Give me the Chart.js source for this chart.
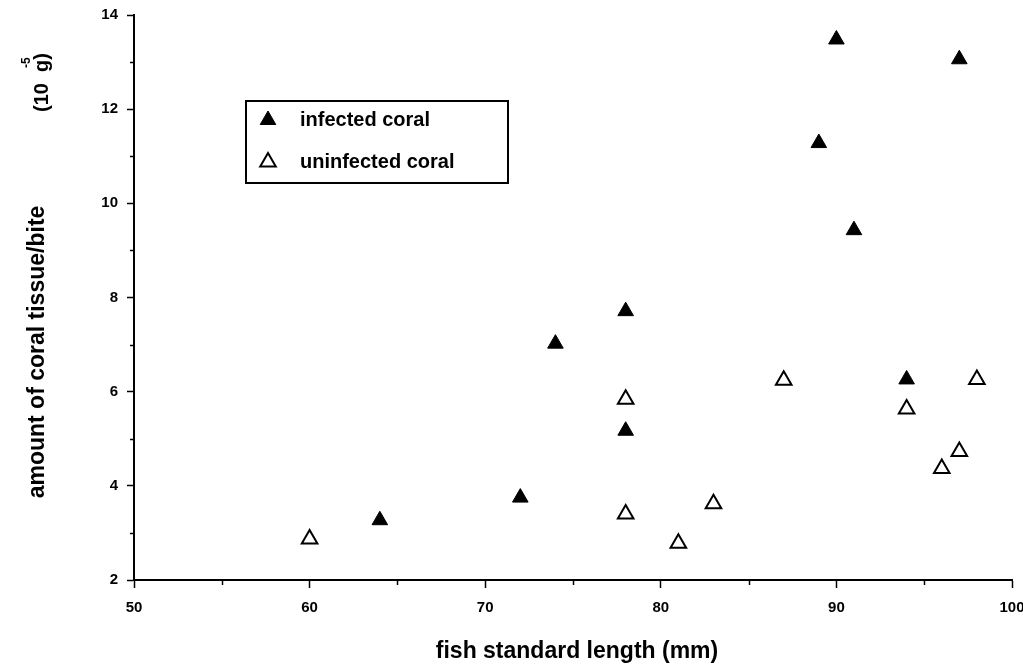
<!DOCTYPE html>
<html>
<head>
<meta charset="utf-8">
<title>Coral tissue per bite</title>
<script src="https://cdn.jsdelivr.net/npm/chart.js@4.4.1/dist/chart.umd.min.js"></script>
<style>
  html, body { margin: 0; padding: 0; background: #fff; }
  #wrap { width: 1023px; height: 664px; position: relative; }
</style>
</head>
<body>
<div id="wrap"><canvas id="chartCanvas"></canvas></div>
<script>
// дані
const infectedX = [64, 72, 74, 78, 78, 89, 90, 91, 94, 97];
const infectedY = [3.27, 3.75, 7.02, 7.71, 5.17, 11.28, 13.48, 9.43, 6.26, 13.06];
const uninfectedX = [60, 78, 78, 81, 83, 87, 94, 96, 97, 98];
const uninfectedY = [2.87, 5.84, 3.4, 2.78, 3.62, 6.24, 5.63, 4.37, 4.73, 6.26];
const seriesLabels = ["infected coral", "uninfected coral"];
const xTicks = [50, 60, 70, 80, 90, 100];
const yTicks = [2, 4, 6, 8, 10, 12, 14];
const xMinor = [55, 65, 75, 85, 95];
const yMinor = [3, 5, 7, 9, 11, 13];
const xTitle = "fish standard length (mm)";
const yTitle = "amount of coral tissue/bite";

const FONT = "'Liberation Sans', Arial, sans-serif";

function toPoints(xs, ys) {
  return xs.map((x, i) => ({ x: x, y: ys[i] }));
}

// малюємо дрібні поділки, підписи осей і легенду
const extras = {
  id: "extras",
  afterDraw(chart) {
    const ctx = chart.ctx;
    const xs = chart.scales.x;
    const ys = chart.scales.y;
    const area = chart.chartArea;
    ctx.save();
    ctx.strokeStyle = "#000";
    ctx.lineWidth = 1.5;
    xMinor.forEach((v) => {
      const px = Math.round(xs.getPixelForValue(v)) + 0.5;
      ctx.beginPath();
      ctx.moveTo(px, area.bottom);
      ctx.lineTo(px, area.bottom + 5);
      ctx.stroke();
    });
    yMinor.forEach((v) => {
      const py = Math.round(ys.getPixelForValue(v)) + 0.5;
      ctx.beginPath();
      ctx.moveTo(area.left, py);
      ctx.lineTo(area.left - 4, py);
      ctx.stroke();
    });

    ctx.fillStyle = "#000";
    // назва осі x
    ctx.font = "bold 23px " + FONT;
    ctx.textAlign = "center";
    ctx.textBaseline = "alphabetic";
    ctx.fillText(xTitle, 577, 658);

    // назва осі y (повернута)
    ctx.save();
    ctx.translate(44, 352);
    ctx.rotate(-Math.PI / 2);
    ctx.font = "bold 23px " + FONT;
    ctx.textAlign = "center";
    ctx.fillText(yTitle, 0, 0);
    ctx.restore();

    ctx.save();
    ctx.translate(48, 112);
    ctx.rotate(-Math.PI / 2);
    ctx.font = "bold 20px " + FONT;
    ctx.textAlign = "left";
    ctx.fillText("(10", 0, 0);
    ctx.fillText("g)", 40, 0);
    ctx.font = "bold 12px " + FONT;
    ctx.fillText("-5", 44, -18);
    ctx.restore();

    // легенда
    ctx.lineWidth = 2;
    ctx.strokeRect(246, 101, 262, 82);
    ctx.font = "bold 20px " + FONT;
    ctx.textAlign = "left";
    ctx.textBaseline = "middle";
    chart.data.datasets.forEach((ds, i) => {
      const cy = i === 0 ? 120 : 162;
      ctx.fillStyle = ds.backgroundColor;
      ctx.strokeStyle = ds.borderColor;
      ctx.lineWidth = ds.borderWidth;
      Chart.helpers.drawPoint(ctx, { pointStyle: "triangle", radius: 9, rotation: 0, borderWidth: ds.borderWidth }, 268, cy);
      ctx.fillStyle = "#000";
      ctx.fillText(ds.label, 300, cy);
    });
    ctx.restore();
  },
};

const ctx = document.getElementById("chartCanvas").getContext("2d");
window.myChart = new Chart(ctx, {
  type: "scatter",
  data: {
    datasets: [
      {
        label: seriesLabels[0],
        data: toPoints(infectedX, infectedY),
        pointStyle: "triangle",
        pointRadius: 9,
        backgroundColor: "#000",
        borderColor: "#000",
        borderWidth: 1,
      },
      {
        label: seriesLabels[1],
        data: toPoints(uninfectedX, uninfectedY),
        pointStyle: "triangle",
        pointRadius: 9,
        backgroundColor: "#fff",
        borderColor: "#000",
        borderWidth: 2,
      },
    ],
  },
  options: {
    responsive: true,
    maintainAspectRatio: false,
    animation: false,
    layout: { padding: { top: 15, right: 9, left: 0, bottom: 0 } },
    plugins: {
      legend: { display: false },
      tooltip: { enabled: false },
    },
    scales: {
      x: {
        type: "linear",
        min: 50,
        max: 100,
        afterBuildTicks: (scale) => {
          scale.ticks = xTicks.map((v) => ({ value: v }));
        },
        afterFit: (scale) => {
          scale.height = 84;
          scale.paddingLeft = 0;
          scale.paddingRight = 0;
        },
        grid: {
          drawOnChartArea: false,
          drawTicks: true,
          tickLength: 8,
          tickColor: "#000",
          tickWidth: 1.5,
        },
        border: { display: true, color: "#000", width: 2 },
        ticks: {
          color: "#000",
          padding: 11,
          maxRotation: 0,
          font: { family: FONT, size: 15, weight: "bold" },
        },
      },
      y: {
        type: "linear",
        min: 2,
        max: 14,
        afterBuildTicks: (scale) => {
          scale.ticks = yTicks.map((v) => ({ value: v }));
        },
        afterFit: (scale) => {
          scale.width = 134;
          scale.paddingTop = 0;
          scale.paddingBottom = 0;
        },
        grid: {
          drawOnChartArea: false,
          drawTicks: true,
          tickLength: 7,
          tickColor: "#000",
          tickWidth: 1.5,
        },
        border: { display: true, color: "#000", width: 2 },
        ticks: {
          color: "#000",
          padding: 9,
          font: { family: FONT, size: 15, weight: "bold" },
        },
      },
    },
  },
  plugins: [extras],
});
</script>
</body>
</html>
